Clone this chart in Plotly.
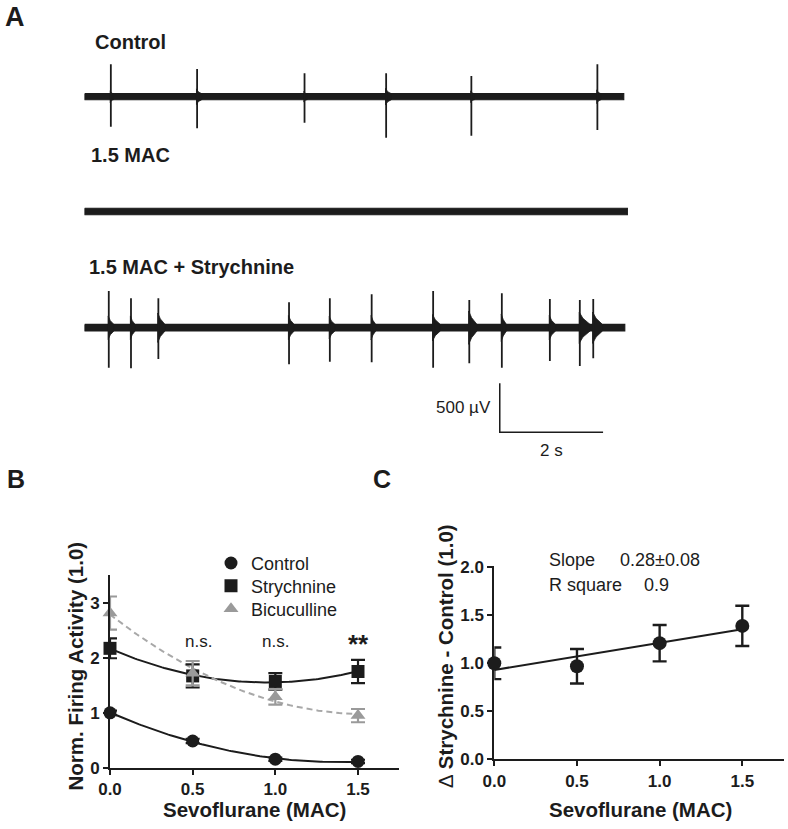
import numpy as np
import plotly.graph_objects as go

# ---------------- data ----------------
MAC_LEVELS = [0.0, 0.5, 1.0, 1.5]
MAC_TICKTEXT = ["0.0", "0.5", "1.0", "1.5"]

# Panel B: normalised firing activity
B_CONTROL = [1.00, 0.49, 0.16, 0.12]
B_CONTROL_ERR = [0.04, 0.04, 0.03, 0.03]
B_STRYCHNINE = [2.17, 1.67, 1.57, 1.75]
B_STRYCHNINE_ERR = [0.18, 0.21, 0.15, 0.21]
B_BICUCULLINE = [2.81, 1.72, 1.29, 0.95]
B_BICUCULLINE_ERR = [0.30, 0.22, 0.14, 0.12]
B_SIGNIF = ["n.s.", "n.s.", "**"]
B_SIGNIF_X = [0.5, 1.0, 1.5]

# Panel C: delta strychnine - control
C_DELTA = [1.00, 0.97, 1.21, 1.39]
C_DELTA_ERR = [0.165, 0.18, 0.19, 0.21]
C_SLOPE_TEXT = "0.28±0.08"
C_RSQ_TEXT = "0.9"

# Panel A: recordings (time in s, amplitude in µV)
TRACE_LABELS = ["Control", "1.5 MAC", "1.5 MAC + Strychnine"]
TRACE_DURATION = [10.44, 10.51, 10.46]
TRACE_NOISE = [31, 33, 33]

CTRL_SPIKE_T = [0.51, 2.18, 4.26, 5.84, 7.49, 9.93]
CTRL_SPIKE_UP = [330, 283, 239, 239, 211, 330]
CTRL_SPIKE_DOWN = [306, 322, 265, 418, 398, 340]
CTRL_BURST_AMP = [60, 80, 55, 85, 60, 70]
CTRL_BURST_DUR = [0.05, 0.09, 0.05, 0.10, 0.06, 0.07]

STRY_SPIKE_T = [0.47, 0.90, 1.43, 3.96, 4.75, 5.56, 6.75, 7.45, 8.08, 9.01, 9.59, 9.85]
STRY_SPIKE_UP = [375, 300, 300, 259, 300, 341, 375, 283, 351, 293, 283, 293]
STRY_SPIKE_DOWN = [408, 414, 319, 373, 347, 353, 408, 363, 408, 340, 391, 312]
STRY_BURST_AMP = [120, 120, 150, 125, 115, 125, 135, 170, 140, 125, 160, 160]
STRY_BURST_DUR = [0.10, 0.08, 0.13, 0.10, 0.10, 0.08, 0.14, 0.15, 0.09, 0.11, 0.20, 0.18]

SCALE_TIME_S = 2.0
SCALE_VOLT_UV = 500.0

# ---------------- layout helpers ----------------
W, H = 788, 829
FONT = "Arial, 'Liberation Sans', sans-serif"
BLACK = "#1c1c1c"
GREY = "#9a9a9a"


def fx(px):
    return px / W


def fy(py):
    return 1 - py / H


fig = go.Figure()

# ---------------- Panel A ----------------
PX_PER_S = 51.65
A_LEFT = 84.5
A_XMAX = 10.6
A_CENTERS = [96.7, 211.5, 327.7]
A_HALF_PX = 49.0  # 500 µV -> 49 px
spike_sets = [
    (CTRL_SPIKE_T, CTRL_SPIKE_UP, CTRL_SPIKE_DOWN, CTRL_BURST_AMP, CTRL_BURST_DUR),
    ([], [], [], None, None),
    (STRY_SPIKE_T, STRY_SPIKE_UP, STRY_SPIKE_DOWN, STRY_BURST_AMP, STRY_BURST_DUR),
]

layout_axes = {}
for i in range(3):
    ax = i + 3
    xa, ya = f"x{ax}", f"y{ax}"
    c = A_CENTERS[i]
    layout_axes[f"xaxis{ax}"] = dict(domain=[fx(A_LEFT), fx(A_LEFT + A_XMAX * PX_PER_S)],
                                     range=[0, A_XMAX], visible=False, anchor=ya)
    layout_axes[f"yaxis{ax}"] = dict(domain=[fy(c + A_HALF_PX), fy(c - A_HALF_PX)],
                                     range=[-500, 500], visible=False, anchor=xa)
    dur = TRACE_DURATION[i]
    n = TRACE_NOISE[i]
    fig.add_trace(go.Scatter(x=[0, dur, dur, 0, 0], y=[n, n, -n, -n, n], mode="lines",
                             fill="toself", fillcolor=BLACK, line=dict(color=BLACK, width=1.2),
                             xaxis=xa, yaxis=ya, showlegend=False, hoverinfo="skip"))
    ts, ups, downs, bamp, bdur = spike_sets[i]
    if bamp is not None:
        bx, by = [], []
        for t, a, d in zip(ts, bamp, bdur):
            bx += [t - 0.012, t + 0.3 * d, t + d, t + d, t + 0.3 * d, t - 0.012, t - 0.012, None]
            by += [a, 0.6 * a, n, -n, -0.6 * a, -a, a, None]
        fig.add_trace(go.Scatter(x=bx, y=by, mode="lines", fill="toself", fillcolor=BLACK,
                                 line=dict(color=BLACK, width=0.8), xaxis=xa, yaxis=ya,
                                 showlegend=False, hoverinfo="skip"))
    if ts:
        sx, sy = [], []
        for t, u, d in zip(ts, ups, downs):
            sx += [t, t, None]
            sy += [-d, u, None]
        fig.add_trace(go.Scatter(x=sx, y=sy, mode="lines", line=dict(color=BLACK, width=1.8),
                                 xaxis=xa, yaxis=ya, showlegend=False, hoverinfo="skip"))

# scale bar axis
SB_CENTER = 407.8
layout_axes["xaxis6"] = dict(domain=[fx(A_LEFT), fx(A_LEFT + A_XMAX * PX_PER_S)],
                             range=[0, A_XMAX], visible=False, anchor="y6")
layout_axes["yaxis6"] = dict(domain=[fy(SB_CENTER + A_HALF_PX), fy(SB_CENTER - A_HALF_PX)],
                             range=[-500, 500], visible=False, anchor="x6")
SB_T0 = 8.04
SB_V0 = -SCALE_VOLT_UV / 2
fig.add_trace(go.Scatter(x=[SB_T0, SB_T0, SB_T0 + SCALE_TIME_S],
                         y=[SB_V0 + SCALE_VOLT_UV, SB_V0, SB_V0], mode="lines",
                         line=dict(color=BLACK, width=1.5), xaxis="x6", yaxis="y6",
                         showlegend=False, hoverinfo="skip"))

# ---------------- Panel B ----------------
xfit = np.linspace(0, 1.5, 120)
series_b = [
    ("Control", B_CONTROL, B_CONTROL_ERR, "circle", BLACK, BLACK, "solid", "legend", 563.3),
    ("Strychnine", B_STRYCHNINE, B_STRYCHNINE_ERR, "square", BLACK, BLACK, "solid", "legend2", 586.0),
    ("Bicuculline", B_BICUCULLINE, B_BICUCULLINE_ERR, "triangle-up", GREY, "#a8a8a8", "6px,4px",
     "legend3", 609.0),
]
for name, vals, errs, sym, col, lcol, dash, lg, ly in series_b:
    coef = np.polyfit(MAC_LEVELS, vals, 2)
    fig.add_trace(go.Scatter(x=xfit, y=np.polyval(coef, xfit), mode="lines",
                             line=dict(color=lcol, width=2, dash=dash),
                             xaxis="x", yaxis="y", showlegend=False, hoverinfo="skip"))
legends = {}
for name, vals, errs, sym, col, lcol, dash, lg, ly in series_b:
    fig.add_trace(go.Scatter(x=MAC_LEVELS, y=vals, mode="markers", name=name, legend=lg,
                             marker=dict(symbol=sym, size=13, color=col),
                             error_y=dict(type="data", array=errs, color=col, thickness=2.2, width=7),
                             xaxis="x", yaxis="y", cliponaxis=False))
    legends[lg] = dict(x=fx(211), y=fy(ly), xanchor="left", yanchor="middle",
                       bgcolor="rgba(0,0,0,0)", borderwidth=0,
                       font=dict(family=FONT, size=18, color=BLACK), itemclick=False)

# ---------------- Panel C ----------------
coef_c = np.polyfit(MAC_LEVELS, C_DELTA, 1)
fig.add_trace(go.Scatter(x=xfit, y=np.polyval(coef_c, xfit), mode="lines",
                         line=dict(color=BLACK, width=2), xaxis="x2", yaxis="y2",
                         showlegend=False, hoverinfo="skip"))
fig.add_trace(go.Scatter(x=MAC_LEVELS, y=C_DELTA, mode="markers", name="Δ",
                         marker=dict(symbol="circle", size=14, color=BLACK),
                         error_y=dict(type="data", array=C_DELTA_ERR, color=BLACK, thickness=2.4, width=7),
                         xaxis="x2", yaxis="y2", showlegend=False, cliponaxis=False))

axis_common = dict(showline=True, linecolor=BLACK, linewidth=2, ticks="outside", ticklen=5,
                   tickwidth=2, tickcolor=BLACK, showgrid=False, zeroline=False, automargin=False,
                   tickfont=dict(family=FONT, size=17, color=BLACK, weight="bold"))

layout_axes["xaxis"] = dict(domain=[fx(110), fx(110 + 1.75 * 165.33)], range=[0, 1.75],
                            tickvals=MAC_LEVELS, ticktext=MAC_TICKTEXT, anchor="y", **axis_common)
layout_axes["yaxis"] = dict(domain=[fy(768), fy(575)], range=[0, 3.5], tickvals=[0, 1, 2, 3],
                            ticktext=["0", "1", "2", "3"], anchor="x", **axis_common)
layout_axes["xaxis2"] = dict(domain=[fx(494.3), fx(494.3 + 1.75 * 165.33)], range=[0, 1.75],
                             tickvals=MAC_LEVELS, ticktext=MAC_TICKTEXT, anchor="y2", **axis_common)
layout_axes["yaxis2"] = dict(domain=[fy(759.3), fy(566.0)], range=[0, 2.014],
                             tickvals=[0, 0.5, 1.0, 1.5, 2.0],
                             ticktext=["0.0", "0.5", "1.0", "1.5", "2.0"], anchor="x2", **axis_common)

# ---------------- annotations ----------------
ann = []


def text(t, x, y, size, xanchor="center", yanchor="middle", **kw):
    d = dict(text=t, x=x, y=y, xref="paper", yref="paper", showarrow=False,
             font=dict(family=FONT, size=size, color=BLACK), xanchor=xanchor, yanchor=yanchor)
    d.update(kw)
    ann.append(d)


text("<b>A</b>", fx(15), fy(16.5), 27)
text("<b>B</b>", fx(16), fy(479), 25)
text("<b>C</b>", fx(381.5), fy(479), 25)

label_pos = [(93, 42.5), (89, 155), (87, 267)]
for lab, (lx, ly) in zip(TRACE_LABELS, label_pos):
    text(f"<b>{lab}</b>", fx(lx), fy(ly), 20, xanchor="left")

ann.append(dict(text=f"{SCALE_VOLT_UV:.0f} µV", x=SB_T0, y=0, xref="x6", yref="y6",
                showarrow=False, xanchor="right", yanchor="middle", xshift=-7,
                font=dict(family=FONT, size=17, color=BLACK)))
ann.append(dict(text=f"{SCALE_TIME_S:.0f} s", x=SB_T0 + SCALE_TIME_S / 2, y=SB_V0, xref="x6",
                yref="y6", showarrow=False, xanchor="center", yanchor="top", yshift=-7,
                font=dict(family=FONT, size=17, color=BLACK)))

# axis titles
text("<b>Norm. Firing Activity (1.0)</b>", fx(75), fy(666.5), 20.5, textangle=-90)
text("<b>Sevoflurane (MAC)</b>", fx(254.5), fy(809), 20.5)
text("∆ <b>Strychnine - Control (1.0)</b>", fx(445), fy(656.5), 20.5, textangle=-90)
text("<b>Sevoflurane (MAC)</b>", fx(640), fy(809), 20.5)

# significance marks in B
for s, sx in zip(B_SIGNIF, B_SIGNIF_X):
    bold = s == "**"
    ann.append(dict(text=f"<b>{s}</b>" if bold else s, x=sx, y=2.29, xref="x", yref="y",
                    showarrow=False, xanchor="center", yanchor="middle",
                    xshift=6 if sx == 0.5 else 0, yshift=-2 if bold else 0,
                    font=dict(family=FONT, size=26 if bold else 17, color=BLACK)))

# regression stats in C
text("Slope", fx(546.7), fy(560), 18, xanchor="left")
text(C_SLOPE_TEXT, fx(618.3), fy(560), 18, xanchor="left")
text("R square", fx(546.7), fy(585), 18, xanchor="left")
text(C_RSQ_TEXT, fx(641.7), fy(585), 18, xanchor="left")

fig.update_layout(
    template="none",
    width=W, height=H, autosize=False,
    margin=dict(l=0, r=0, t=0, b=0, pad=0, autoexpand=False),
    paper_bgcolor="white", plot_bgcolor="rgba(0,0,0,0)",
    font=dict(family=FONT, color=BLACK),
    showlegend=True,
    annotations=ann,
    **legends,
    **layout_axes,
)

fig.write_html("out.html", config={"displayModeBar": False},
               post_script="document.body.style.margin='0';")
